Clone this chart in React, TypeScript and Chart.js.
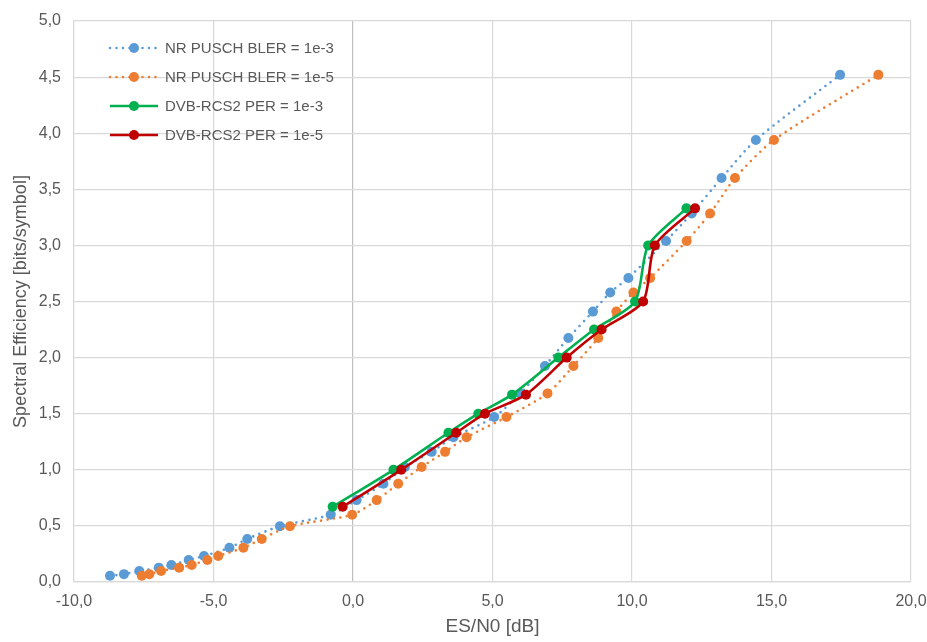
import React, { useEffect, useRef } from "react";
import { Chart, registerables } from "chart.js";

Chart.register(...registerables);

// NR PUSCH spectral efficiencies (bits/symbol)
const nrSE = [0.055, 0.07, 0.098, 0.128, 0.152, 0.196, 0.232, 0.305, 0.384, 0.497, 0.60, 0.73, 0.875, 1.025, 1.16, 1.29, 1.47, 1.68, 1.925, 2.175, 2.41, 2.58, 2.71, 3.04, 3.285, 3.60, 3.94, 4.52];
const nrBler3X = [-8.71, -8.21, -7.66, -6.96, -6.51, -5.89, -5.34, -4.43, -3.79, -2.62, -0.80, 0.13, 1.09, 1.86, 2.82, 3.60, 5.06, 5.99, 6.88, 7.72, 8.60, 9.22, 9.87, 11.22, 12.14, 13.21, 14.44, 17.46];
const nrBler5X = [-7.57, -7.30, -6.88, -6.23, -5.78, -5.22, -4.83, -3.93, -3.27, -2.26, -0.03, 0.85, 1.62, 2.46, 3.30, 4.07, 5.50, 6.97, 7.90, 8.79, 9.44, 10.05, 10.65, 11.96, 12.80, 13.69, 15.09, 18.83];

// DVB-RCS2 spectral efficiencies
const dvbSE = [0.67, 1.0, 1.33, 1.5, 1.67, 2.0, 2.25, 2.5, 3.0, 3.33];
const dvbPer3X = [-0.73, 1.45, 3.42, 4.49, 5.70, 7.36, 8.64, 10.11, 10.58, 11.95];
const dvbPer5X = [-0.37, 1.73, 3.70, 4.73, 6.20, 7.66, 8.91, 10.40, 10.82, 12.26];

const seriesLabels = [
  "NR PUSCH BLER = 1e-3",
  "NR PUSCH BLER = 1e-5",
  "DVB-RCS2 PER = 1e-3",
  "DVB-RCS2 PER = 1e-5",
];

const xTitle = "ES/N0 [dB]";
const yTitle = "Spectral Efficiency [bits/symbol]";

const FONT = "'Liberation Sans', Arial, sans-serif";
const TEXT = "#595959";

const toPts = (xs: number[], ys: number[]) => xs.map((x, i) => ({ x, y: ys[i] }));
const fmt = (v: number) => v.toFixed(1).replace(".", ",");

const legendPlugin = {
  id: "innerLegend",
  afterDatasetsDraw(chart: any) {
    const ctx = chart.ctx;
    const x0 = 110, x1 = 158, xm = 134, xt = 165;
    const rows = [48, 77, 106, 135];
    ctx.save();
    chart.data.datasets.forEach((ds: any, i: number) => {
      const y = rows[i];
      ctx.beginPath();
      ctx.setLineDash(ds.borderDash || []);
      ctx.lineCap = ds.borderCapStyle || "butt";
      ctx.strokeStyle = ds.borderColor;
      ctx.lineWidth = ds.borderWidth;
      ctx.moveTo(x0, y);
      ctx.lineTo(x1, y);
      ctx.stroke();
      ctx.setLineDash([]);
      ctx.beginPath();
      ctx.fillStyle = ds.pointBackgroundColor;
      ctx.arc(xm, y, 5, 0, Math.PI * 2);
      ctx.fill();
      ctx.fillStyle = TEXT;
      ctx.font = `15px ${FONT}`;
      ctx.textBaseline = "middle";
      ctx.textAlign = "left";
      ctx.fillText(ds.label, xt, y + 1);
    });
    ctx.restore();
  },
};

export default function App() {
  const ref = useRef<HTMLCanvasElement>(null);

  useEffect(() => {
    document.body.style.margin = "0";
    const canvas = ref.current!;
    const dotted = {
      borderDash: [0, 6.5],
      borderCapStyle: "round",
      borderWidth: 2.6,
      tension: 0.25,
    };
    const solid = { borderWidth: 2.6, tension: 0.25 };
    const mk = (label: string, xs: number[], ys: number[], color: string, order: number, style: any) => ({
      label,
      data: toPts(xs, ys),
      showLine: true,
      borderColor: color,
      backgroundColor: color,
      pointBackgroundColor: color,
      pointBorderWidth: 0,
      pointRadius: 5,
      order,
      ...style,
    });
    const chart = new Chart(canvas, {
      type: "scatter",
      data: {
        datasets: [
          mk(seriesLabels[0], nrBler3X, nrSE, "#5B9BD5", 3, dotted),
          mk(seriesLabels[1], nrBler5X, nrSE, "#ED7D31", 2, dotted),
          mk(seriesLabels[2], dvbPer3X, dvbSE, "#00B050", 1, solid),
          mk(seriesLabels[3], dvbPer5X, dvbSE, "#C00000", 0, solid),
        ],
      } as any,
      options: {
        responsive: false,
        animation: false,
        layout: { padding: { top: 21, right: 16, left: 0, bottom: 0 } },
        plugins: {
          legend: { display: false },
          tooltip: { enabled: false },
        },
        scales: {
          x: {
            type: "linear",
            min: -10,
            max: 20,
            afterFit: (s: any) => {
              s.height = 60;
              s.paddingRight = 0;
              s.paddingLeft = 0;
            },
            ticks: {
              stepSize: 5,
              padding: 10,
              color: TEXT,
              font: { family: FONT, size: 16 },
              callback: (v: any) => fmt(Number(v)),
            },
            grid: {
              color: (c: any) => (c.tick && c.tick.value === 0 ? "#BFBFBF" : "#D9D9D9"),
              lineWidth: 1.2,
              drawTicks: false,
            },
            border: { color: "#D9D9D9", width: 1.2 },
            title: {
              display: true,
              text: xTitle,
              color: TEXT,
              font: { family: FONT, size: 19 },
              padding: { top: 0, bottom: 4 },
            },
          },
          y: {
            type: "linear",
            min: 0,
            max: 5,
            afterFit: (s: any) => {
              s.width = 74;
              s.paddingTop = 0;
              s.paddingBottom = 0;
            },
            ticks: {
              stepSize: 0.5,
              padding: 13,
              color: TEXT,
              font: { family: FONT, size: 16 },
              callback: (v: any) => fmt(Number(v)),
            },
            grid: {
              color: "#D9D9D9",
              lineWidth: 1.2,
              drawTicks: false,
            },
            border: { color: "#D9D9D9", width: 1.2 },
            title: {
              display: true,
              text: yTitle,
              color: TEXT,
              font: { family: FONT, size: 18 },
              padding: { top: 10, bottom: 0 },
            },
          },
        },
      } as any,
      plugins: [legendPlugin],
    });
    return () => chart.destroy();
  }, []);

  return (
    <div style={{ width: 927, height: 642, background: "#fff" }}>
      <canvas ref={ref} width={927} height={642} style={{ display: "block" }} />
    </div>
  );
}
